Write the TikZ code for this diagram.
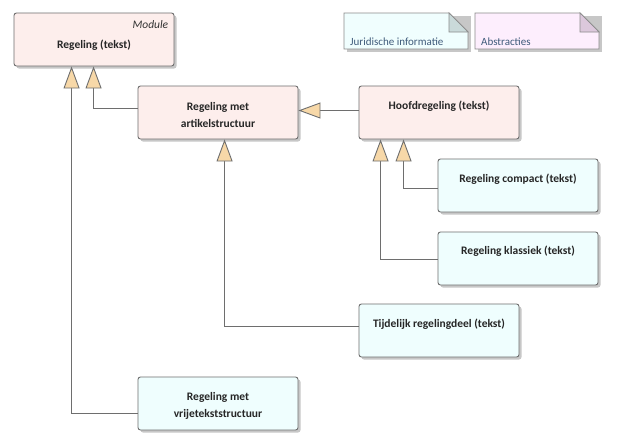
\documentclass[tikz,border=0pt]{standalone}
\usepackage{fontspec}
\setmainfont{Carlito}
\usetikzlibrary{arrows.meta,calc}
\definecolor{pinkfill}{HTML}{FDEEEC}
\definecolor{cyanfill}{HTML}{EFFEFE}
\definecolor{edgegray}{HTML}{6E6E6E}
\definecolor{tipfill}{HTML}{F7D8A8}
\definecolor{notetext}{HTML}{3E5A7A}
\definecolor{jfill}{HTML}{F0FEFE}
\definecolor{jfold}{HTML}{CADADA}
\definecolor{afill}{HTML}{FDEEFD}
\definecolor{afold}{HTML}{DCC8DC}
\begin{document}
\begin{tikzpicture}[x=1pt,y=-1pt,
  box/.style={draw=edgegray, line width=0.9pt, rounded corners=2.5pt,
    minimum width=160pt, minimum height=53pt, inner sep=0pt,
    preaction={fill=black!22, transform canvas={shift={(2.5pt,-2.5pt)}}}},
  pinkbox/.style={box, fill=pinkfill},
  cyanbox/.style={box, fill=cyanfill},
  lbl/.style={font=\fontsize{11.5}{17}\selectfont\bfseries, text=black!85, align=center, inner sep=0pt},
  conn/.style={draw=edgegray, line width=0.9pt,
    -{Triangle[width=16pt,length=22pt,fill=tipfill,line width=0.9pt]}},
  notetxt/.style={font=\fontsize{11}{13}\selectfont, text=notetext, anchor=west, inner sep=0pt}
]
\useasboundingbox (0,0) rectangle (617,447);
\fill[white] (0,0) rectangle (617,447);

% Notes
\fill[black!22] (347,16) rectangle (471,52);
\draw[edgegray!80, line width=0.7pt, fill=jfill] (344,13) -- (449,13) -- (468,32) -- (468,49) -- (344,49) -- cycle;
\draw[edgegray!80, line width=0.7pt, fill=jfold] (449,13) -- (449,32) -- (468,32) -- cycle;
\node[notetxt] (jur) at (350,42) {Juridische informatie};
\fill[black!22] (478,16) rectangle (602,52);
\draw[edgegray!80, line width=0.7pt, fill=afill] (475,13) -- (580,13) -- (599,32) -- (599,49) -- (475,49) -- cycle;
\draw[edgegray!80, line width=0.7pt, fill=afold] (580,13) -- (580,32) -- (599,32) -- cycle;
\node[notetxt] (abs) at (481,42) {Abstracties};

% Boxes
\node[pinkbox] (reg) at (94,39.5) {};
\node[pinkbox] (art) at (218,112.5) {};
\node[pinkbox] (hoofd) at (439,112.5) {};
\node[cyanbox] (comp) at (518,185.5) {};
\node[cyanbox] (klas) at (518,258.5) {};
\node[cyanbox] (tijd) at (439,330.5) {};
\node[cyanbox] (vrij) at (218,403.5) {};

% Labels
\node[font=\fontsize{11.5}{13}\selectfont\itshape, text=black!80, anchor=east, inner sep=0pt] (modl) at ($(reg.north east)+(-6,12)$) {Module};
\node[lbl] (regt) at ($(reg.north)+(0,33)$) {Regeling (tekst)};
\node[lbl] (artt) at ($(art.north)+(0,29.5)$) {Regeling met\\artikelstructuur};
\node[lbl] (hoofdt) at ($(hoofd.north)+(0,21)$) {Hoofdregeling (tekst)};
\node[lbl] (compt) at ($(comp.north)+(0,21)$) {Regeling compact (tekst)};
\node[lbl] (klast) at ($(klas.north)+(0,20)$) {Regeling klassiek (tekst)};
\node[lbl] (tijdt) at ($(tijd.north)+(0,21)$) {Tijdelijk regelingdeel (tekst)};
\node[lbl] (vrijt) at ($(vrij.north)+(0,29.5)$) {Regeling met\\vrijetekststructuur};

% Connectors
\draw[conn] ($(vrij.west)+(0,10)$) -| ($(reg.south west)+(58,0)$);
\draw[conn] ($(art.west)+(0,-4.5)$) -| ($(reg.south west)+(80,0)$);
\draw[conn] ($(hoofd.west)+(0,-2)$) -- ($(art.east)+(0,-2)$);
\draw[conn] ($(tijd.west)+(0,-4)$) -| ($(art.south west)+(87,0)$);
\draw[conn] ($(comp.west)+(0,2.5)$) -| ($(hoofd.south west)+(45,0)$);
\draw[conn] ($(klas.west)+(0,0.5)$) -| ($(hoofd.south west)+(22,0)$);
\end{tikzpicture}
\end{document}
